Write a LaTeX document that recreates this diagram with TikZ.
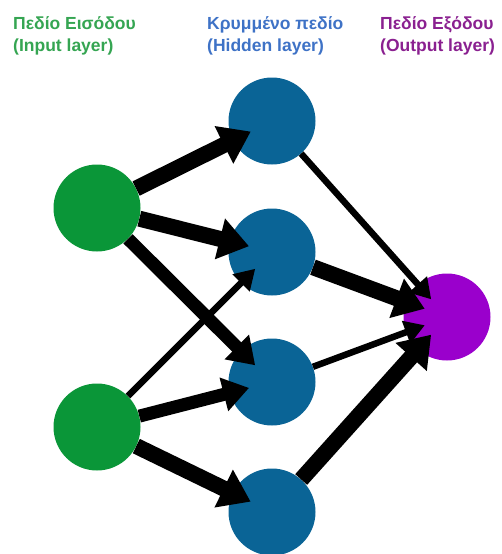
\documentclass[tikz,border=0pt]{standalone}
\usepackage{fontspec}
\setmainfont{Liberation Sans}
\usetikzlibrary{arrows.meta}
\definecolor{ingreen}{HTML}{0A9638}
\definecolor{hidblue}{HTML}{0A6496}
\definecolor{outpurple}{HTML}{9A00CC}
\definecolor{labgreen}{HTML}{35A552}
\definecolor{labblue}{HTML}{3E72C6}
\definecolor{labpurple}{HTML}{8A2090}
\tikzset{
  neuron/.style = {circle, minimum size=87pt, inner sep=0pt},
  layerlabel/.style = {anchor=north west, align=left, inner sep=0pt,
    font=\fontsize{17.5}{22.5}\selectfont\bfseries},
  heavy/.style = {line width=16pt, -{Triangle[length=30pt,width=40pt]}, shorten >=-20pt},
  medium/.style = {line width=13pt, -{Triangle[length=26pt,width=33pt]}, shorten >=-20pt},
  light/.style = {line width=6.5pt, -{Triangle[length=20pt,width=23pt]}, shorten >=-20pt}
}

\begin{document}
\begin{tikzpicture}[x=1pt, y=-1pt]
        \useasboundingbox (0,0) rectangle (502,554);
        \node[layerlabel, text=labgreen] (lab_in) at (13,16) {Πεδίο Εισόδου \\ (Input layer)};
        \node[layerlabel, text=labblue] (lab_hid) at (207,16) {Κρυμμένο πεδίο \\ (Hidden layer)};
        \node[layerlabel, text=labpurple] (lab_out) at (380,16) {Πεδίο Εξόδου \\ (Output layer)};
        \node[neuron, fill=ingreen] (in_a) at (97,208) {};
        \node[neuron, fill=ingreen] (in_b) at (97,427) {};
        \node[neuron, fill=hidblue] (hid_a) at (272,121) {};
        \node[neuron, fill=hidblue] (hid_b) at (272,252) {};
        \node[neuron, fill=hidblue] (hid_c) at (272,382) {};
        \node[neuron, fill=hidblue] (hid_d) at (272,512) {};
        \node[neuron, fill=outpurple] (out) at (447,317) {};
        \draw[heavy] (in_a) -- (hid_a);
        \draw[heavy] (in_a) -- (hid_b);
        \draw[medium] (in_a) -- (hid_c);
        \draw[light] (in_b) -- (hid_b);
        \draw[medium] (in_b) -- (hid_c);
        \draw[heavy] (in_b) -- (hid_d);
        \draw[light] (hid_a) -- (out);
        \draw[heavy] (hid_b) -- (out);
        \draw[light] (hid_c) -- (out);
        \draw[heavy] (hid_d) -- (out);
      \end{tikzpicture}
\end{document}
